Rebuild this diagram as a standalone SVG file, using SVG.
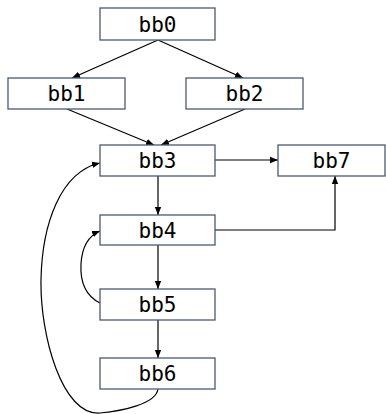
<svg xmlns="http://www.w3.org/2000/svg" width="386" height="414" viewBox="0 0 386 414">
<defs>
<marker id="ah" viewBox="0 0 10 10" refX="10" refY="5" markerWidth="8" markerHeight="8" markerUnits="userSpaceOnUse" orient="auto">
<path d="M0,1 L10,5 L0,9 Z" fill="#000"/>
</marker>
<style>
.box{fill:#fff;stroke:#4a5a70;stroke-width:1.3}
.lbl{font-family:"DejaVu Sans Mono","Liberation Mono",monospace;font-size:21px;fill:#000;text-anchor:middle}
.e{fill:none;stroke:#000;stroke-width:1.2;marker-end:url(#ah)}
</style>
</defs>
<rect width="386" height="414" fill="#fff"/>
<g id="connectors">
<path class="e" d="M158,40 L72,78"/>
<path class="e" d="M158,40 L243,78"/>
<path class="e" d="M67,109 L154,145"/>
<path class="e" d="M245,109 L161,145"/>
<path class="e" d="M215,160 L278,160"/>
<path class="e" d="M158,176 L158,215"/>
<path class="e" d="M215,230 L335,230 L335,176"/>
<path class="e" d="M158,245 L158,289"/>
<path class="e" d="M158,320 L158,358"/>
<path class="e" d="M100,303 C86,296 80,282 81,264 C82,247 88,236 100,231"/>
<path class="e" d="M158,389 C156,404 122,411 100,413 C62,416 40,335 41,280 C42,225 60,172 100,163"/>
</g>
<g id="bb0"><rect class="box" x="100" y="8" width="115" height="32"/><text class="lbl" x="157.5" y="32">bb0</text></g>
<g id="bb1"><rect class="box" x="8" y="78" width="117" height="31"/><text class="lbl" x="66.5" y="101">bb1</text></g>
<g id="bb2"><rect class="box" x="186" y="78" width="117" height="31"/><text class="lbl" x="244.5" y="101">bb2</text></g>
<g id="bb3"><rect class="box" x="100" y="145" width="115" height="31"/><text class="lbl" x="157.5" y="168">bb3</text></g>
<g id="bb7"><rect class="box" x="278" y="145" width="107" height="31"/><text class="lbl" x="331.5" y="168">bb7</text></g>
<g id="bb4"><rect class="box" x="100" y="215" width="115" height="30"/><text class="lbl" x="157.5" y="238">bb4</text></g>
<g id="bb5"><rect class="box" x="100" y="289" width="115" height="31"/><text class="lbl" x="157.5" y="312">bb5</text></g>
<g id="bb6"><rect class="box" x="100" y="358" width="115" height="31"/><text class="lbl" x="157.5" y="381">bb6</text></g>
</svg>
